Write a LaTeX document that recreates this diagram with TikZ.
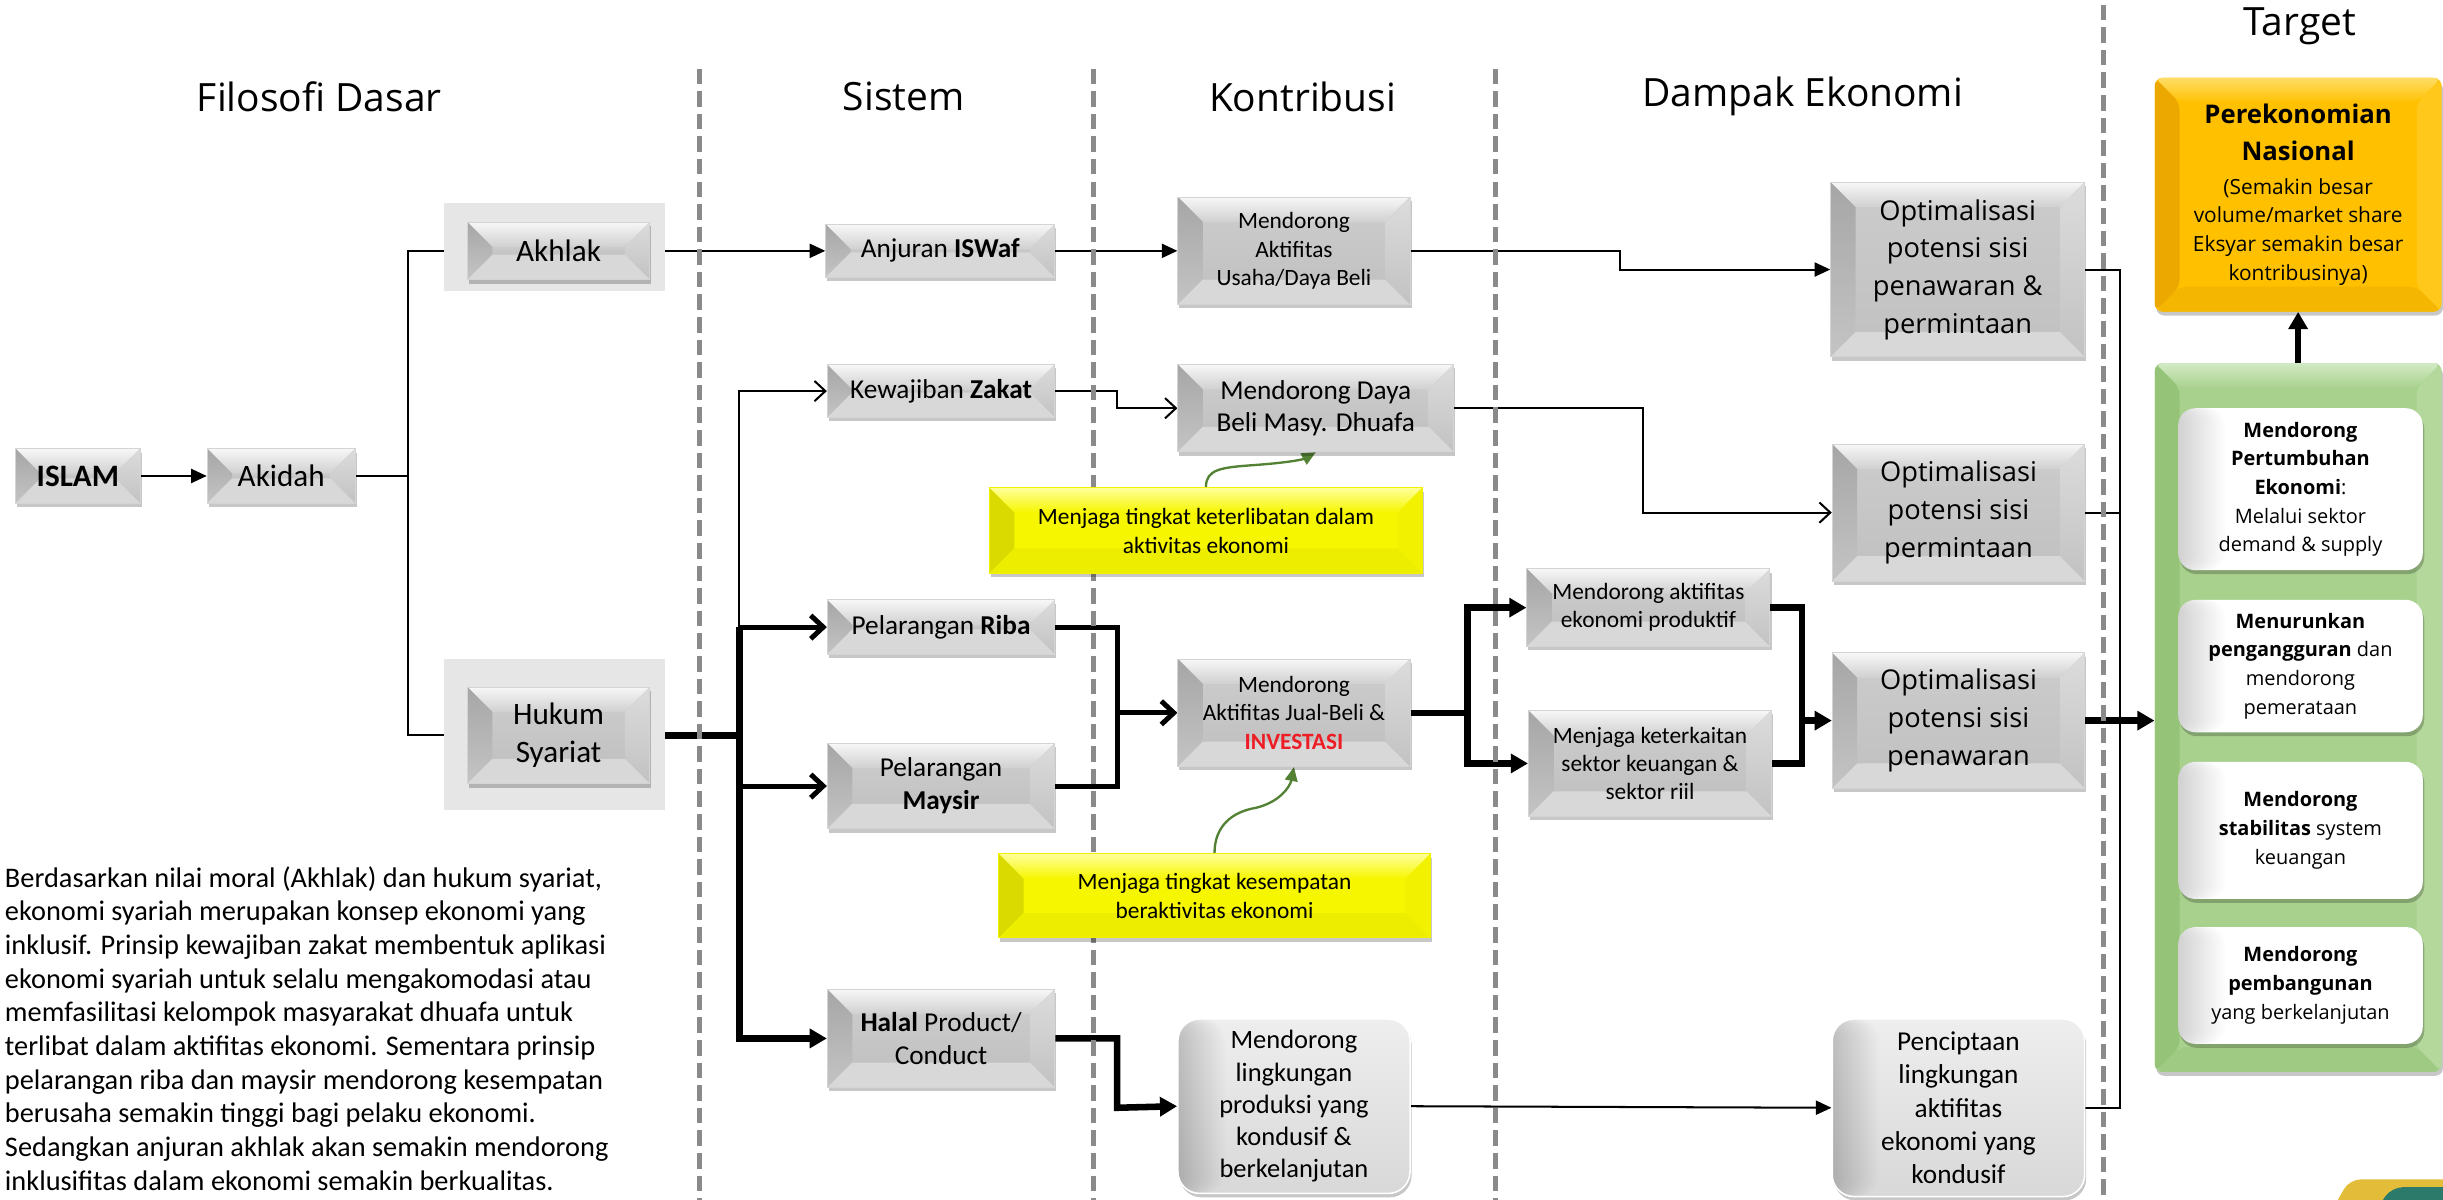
\documentclass[tikz,border=0pt]{standalone}
\usepackage{fontspec}
\setmainfont{Carlito}
\newfontfamily\osans{Open Sans}
\usetikzlibrary{arrows.meta,shadows,calc}
\newcommand\fsz[2]{\fontsize{#1}{#2}\selectfont}

% grey bevel boxes
\definecolor{gTopA}{HTML}{F7F7F7}
\definecolor{gTopB}{HTML}{D0D0D0}
\definecolor{gLA}{HTML}{A6A6A6}
\definecolor{gLB}{HTML}{C4C4C4}
\definecolor{gRA}{HTML}{DCDCDC}
\definecolor{gRB}{HTML}{C2C2C2}
\definecolor{gBot}{HTML}{D8D8D8}
\definecolor{gInA}{HTML}{CACACA}
\definecolor{gInB}{HTML}{C2C2C2}
\definecolor{gBorder}{HTML}{D4D4D4}
\definecolor{bgGrey}{HTML}{E6E6E6}
% yellow notes
\definecolor{yTopA}{HTML}{FFFF9A}
\definecolor{yTopB}{HTML}{F6F600}
\definecolor{yL}{HTML}{DADA00}
\definecolor{yR}{HTML}{F2F200}
\definecolor{yBot}{HTML}{EDED00}
\definecolor{yIn}{HTML}{F6F600}
% orange target
\definecolor{oTopA}{HTML}{FFDD66}
\definecolor{oTopB}{HTML}{FFC000}
\definecolor{oL}{HTML}{EDA800}
\definecolor{oR}{HTML}{FFC81A}
\definecolor{oBot}{HTML}{F4B600}
\definecolor{oIn}{HTML}{FFC000}
% green panel
\definecolor{grTopA}{HTML}{D3EAC4}
\definecolor{grTopB}{HTML}{A9D18E}
\definecolor{grL}{HTML}{95C377}
\definecolor{grR}{HTML}{B4D89C}
\definecolor{grBot}{HTML}{9FCA83}
\definecolor{grIn}{HTML}{A9D18E}
% misc
\definecolor{dashGrey}{HTML}{8A8A8A}
\definecolor{curveGreen}{HTML}{548235}
\definecolor{invRed}{HTML}{EE1C25}
\definecolor{rgTop}{HTML}{EEEEEE}
\definecolor{rgBot}{HTML}{D8D8D8}
\definecolor{logoY}{HTML}{E3BC3A}
\definecolor{logoT}{HTML}{2C7A69}

\pgfdeclarelayer{bg}
\pgfdeclarelayer{conn}
\pgfsetlayers{bg,conn,main}

\tikzset{
  bevel/.style n args={5}{path picture={%
    \path (path picture bounding box.north west) coordinate (pNW)
          (path picture bounding box.north east) coordinate (pNE)
          (path picture bounding box.south east) coordinate (pSE)
          (path picture bounding box.south west) coordinate (pSW)
          ([xshift=16pt,yshift=-16pt]pNW) coordinate (iNW)
          ([xshift=-16pt,yshift=-16pt]pNE) coordinate (iNE)
          ([xshift=-16pt,yshift=16pt]pSE) coordinate (iSE)
          ([xshift=16pt,yshift=16pt]pSW) coordinate (iSW);
    \fill[#5] (iNW) rectangle (iSE);
    \fill[#1] (pNW) -- (pNE) -- (iNE) -- (iNW) -- cycle;
    \fill[#2] (pNW) -- (iNW) -- (iSW) -- (pSW) -- cycle;
    \fill[#3] (pNE) -- (iNE) -- (iSE) -- (pSE) -- cycle;
    \fill[#4] (pSW) -- (iSW) -- (iSE) -- (pSE) -- cycle;
  }},
  % soft darkening along the left edge, built from stacked translucent strips
  leftshade/.style={path picture={%
    \foreach \w in {2,4,...,30}
      \fill[black, opacity=0.011] (path picture bounding box.north west)
        rectangle ([xshift=\w pt]path picture bounding box.south west);
  }},
  softshadow/.style={drop shadow={shadow xshift=1pt,shadow yshift=-2.5pt,opacity=0.22,fill=black}},
  gbox/.style={draw=gBorder, line width=0.6pt, fill=gInA, inner sep=0pt, align=center, softshadow,
    bevel={top color=gTopA,bottom color=gTopB}{top color=gLA,bottom color=gLB}%
          {top color=gRA,bottom color=gRB}{fill=gBot}{top color=gInA,bottom color=gInB}},
  ybox/.style={draw=yR, line width=0.6pt, fill=yIn, inner sep=0pt, align=center, softshadow,
    font=\fsz{15}{18.6},
    bevel={top color=yTopA,bottom color=yTopB}{fill=yL}{fill=yR}{fill=yBot}{fill=yIn}},
  rgbox/.style={draw=white, line width=1pt, rounded corners=14pt, top color=rgTop, bottom color=rgBot,
    inner sep=0pt, align=center, softshadow, leftshade},
  obox/.style={rounded corners=5pt, fill=oIn, inner sep=0pt, align=center, softshadow,
    bevel={top color=oTopA,bottom color=oTopB}{fill=oL}{fill=oR}{fill=oBot}{fill=oIn}},
  grbox/.style={rounded corners=5pt, fill=grIn, inner sep=0pt, softshadow,
    bevel={top color=grTopA,bottom color=grTopB}{fill=grL}{fill=grR}{fill=grBot}{fill=grIn}},
  card/.style={rounded corners=11pt, fill=white, inner sep=0pt, align=center,
    font=\osans\fsz{12.8}{18.4}, softshadow, leftshade},
  titletext/.style={font=\osans\fsz{25}{30}, inner sep=0pt},
  dashln/.style={draw=dashGrey, line width=3pt, dash pattern=on 10pt off 4.5pt},
  thinln/.style={line width=1.3pt},
  medln/.style={line width=3.2pt},
  thickln/.style={line width=4.2pt},
  tipF/.style={-{Triangle[length=10pt,width=9pt]}},
  tipFB/.style={-{Triangle[length=11pt,width=12pt]}},
  tipO/.style={-{Straight Barb[length=7pt,width=13pt]}},
  tipOB/.style={-{Straight Barb[length=8pt,width=15pt]}},
  curvearrow/.style={draw=curveGreen, line width=1.5pt, -{Triangle[length=9pt,width=8pt]}, curveGreen},
}

\begin{document}
\begin{tikzpicture}[x=1pt,y=-1pt]
\begin{pgfonlayer}{bg}
  \fill[white] (0,0) rectangle (1568,770);
\end{pgfonlayer}
\useasboundingbox (0,0) rectangle (1568,770);

% column headings
\node[titletext] (tFil) at (205,62) {Filosofi Dasar};
\node[titletext] (tSis) at (580,62) {Sistem};
\node[titletext] (tKon) at (836,62) {Kontribusi};
\node[titletext] (tDam) at (1157,62) {Dampak Ekonomi};
\node[titletext] (tTar) at (1476,17) {Target};

% column separators
\foreach \cx/\cy in {449/44, 702/44, 960/44, 1350/3}
  \draw[dashln] (\cx,\cy) -- (\cx,772);

% Filosofi Dasar
\node[fill=bgGrey, minimum width=142pt, minimum height=57pt, inner sep=0pt] (bgA) at (356,158.5) {};
\node[fill=bgGrey, minimum width=142pt, minimum height=97pt, inner sep=0pt] (bgH) at (356,471.5) {};
\node[gbox, font=\fsz{20}{24}, minimum width=80pt, minimum height=35pt] (islam) at (50,305.5) {\textbf{ISLAM}};
\node[gbox, font=\fsz{20}{24}, minimum width=95pt, minimum height=35pt] (akidah) at (180.5,305.5) {Akidah};
\node[gbox, font=\fsz{20}{24}, minimum width=117pt, minimum height=37pt] (akhlak) at (358.5,161) {Akhlak};
\node[gbox, font=\fsz{20}{24.5}, minimum width=117pt, minimum height=62pt] (hukum) at (358.5,472) {Hukum\\Syariat};

% Sistem
\node[gbox, font=\fsz{17.5}{21}, minimum width=147pt, minimum height=34pt] (iswaf) at (603.5,161) {Anjuran \textbf{ISWaf}};
\node[gbox, font=\fsz{17.5}{21}, minimum width=146pt, minimum height=34pt] (zakat) at (604,251) {Kewajiban \textbf{Zakat}};
\node[gbox, font=\fsz{17.5}{21}, minimum width=146pt, minimum height=35pt] (riba) at (604,402.5) {Pelarangan \textbf{Riba}};
\node[gbox, font=\fsz{17.5}{21}, minimum width=146pt, minimum height=55pt] (maysir) at (604,504.5) {Pelarangan\\\textbf{Maysir}};
\node[gbox, font=\fsz{17.5}{21}, minimum width=146pt, minimum height=63pt] (halal) at (604,666.5) {\textbf{Halal} Product/\\Conduct};

% Kontribusi
\node[gbox, font=\fsz{15}{18.4}, minimum width=149pt, minimum height=69pt] (usaha) at (830.5,161) {Mendorong\\Aktifitas\\Usaha/Daya Beli};
\node[gbox, font=\fsz{17.5}{21}, minimum width=177pt, minimum height=56pt] (daya) at (844.5,262) {Mendorong Daya\\Beli Masy. Dhuafa};
\node[gbox, font=\fsz{15}{18.4}, minimum width=149pt, minimum height=69pt] (jual) at (830.5,457.5) {Mendorong\\Aktifitas Jual-Beli \&\\\textcolor{invRed}{\textbf{INVESTASI}}};
\node[rgbox, font=\fsz{17}{20.6}, minimum width=149pt, minimum height=112pt] (ling) at (830.5,710) {Mendorong\\lingkungan\\produksi yang\\kondusif \&\\berkelanjutan};
\node[ybox, minimum width=278pt, minimum height=55pt] (ket1) at (774,340.5) {Menjaga tingkat keterlibatan dalam\\aktivitas ekonomi};
\node[ybox, minimum width=277pt, minimum height=54pt] (ket2) at (779.5,575) {Menjaga tingkat kesempatan\\beraktivitas ekonomi};

% Dampak Ekonomi
\node[gbox, font=\fsz{15}{18}, minimum width=156pt, minimum height=50pt] (prod) at (1058,390) {Mendorong aktifitas\\ekonomi produktif};
\node[gbox, font=\fsz{15}{18}, minimum width=156pt, minimum height=68pt] (kait) at (1059,490) {Menjaga keterkaitan\\sektor keuangan \&\\sektor riil};
\node[gbox, font=\osans\fsz{17.5}{24.2}, minimum width=163pt, minimum height=112pt] (topopt) at (1256.5,173) {Optimalisasi\\potensi sisi\\penawaran \&\\permintaan};
\node[gbox, font=\osans\fsz{17.5}{24.2}, minimum width=162pt, minimum height=88pt] (minta) at (1257,329) {Optimalisasi\\potensi sisi\\permintaan};
\node[gbox, font=\osans\fsz{17.5}{24.2}, minimum width=162pt, minimum height=87pt] (tawar) at (1257,462.5) {Optimalisasi\\potensi sisi\\penawaran};
\node[rgbox, font=\fsz{17.5}{21.4}, minimum width=162pt, minimum height=114pt] (cipta) at (1257,711) {Penciptaan\\lingkungan\\aktifitas\\ekonomi yang\\kondusif};

% Target
\node[obox, font=\osans\fsz{13.4}{18.4}, minimum width=184pt, minimum height=150pt] (orange) at (1475,125)
  {\textbf{\fsz{16.5}{23}Perekonomian}\\[4.8pt]\textbf{\fsz{16.5}{23}Nasional}\\[3.4pt](Semakin besar\\volume/market share\\Eksyar semakin besar\\kontribusinya)};
\node[grbox, minimum width=184pt, minimum height=455pt] (green) at (1475,460.5) {};
\node[card, minimum width=157pt, minimum height=104pt] (card1) at (1476.5,314) {\textbf{Mendorong}\\\textbf{Pertumbuhan}\\\textbf{Ekonomi}:\\Melalui sektor\\demand \& supply};
\node[card, minimum width=157pt, minimum height=85pt] (card2) at (1476.5,427.5) {\textbf{Menurunkan}\\\textbf{pengangguran} dan\\mendorong\\pemerataan};
\node[card, minimum width=157pt, minimum height=88pt] (card3) at (1476.5,533) {\textbf{Mendorong}\\\textbf{stabilitas} system\\keuangan};
\node[card, minimum width=157pt, minimum height=75pt] (card4) at (1476.5,632.5) {\textbf{Mendorong}\\\textbf{pembangunan}\\yang berkelanjutan};

% explanatory paragraph
\node[anchor=north west, align=left, inner sep=0pt, font=\fsz{18.2}{21.6}] (para) at (3,556)
  {Berdasarkan nilai moral (Akhlak) dan hukum syariat,\\
   ekonomi syariah merupakan konsep ekonomi yang\\
   inklusif. Prinsip kewajiban zakat membentuk aplikasi\\
   ekonomi syariah untuk selalu mengakomodasi atau\\
   memfasilitasi kelompok masyarakat dhuafa untuk\\
   terlibat dalam aktifitas ekonomi. Sementara prinsip\\
   pelarangan riba dan maysir mendorong kesempatan\\
   berusaha semakin tinggi bagi pelaku ekonomi.\\
   Sedangkan anjuran akhlak akan semakin mendorong\\
   inklusifitas dalam ekonomi semakin berkualitas.};

% corner emblem
\fill[logoY, rounded corners=7pt] (1496,778) -- (1508,757) -- (1580,757) -- (1580,778) -- cycle;
\fill[logoT, rounded corners=7pt] (1524,778) -- (1535,762) -- (1580,762) -- (1580,778) -- cycle;

% junction points
\coordinate (jA) at (262,305.5);
\coordinate (jUs) at (1040,173);
\coordinate (jH) at (474.5,472);
\coordinate (jZ) at (717,262);
\coordinate (jRM) at (717,457.5);
\coordinate (jD) at (1054.7,329);
\coordinate (jJ) at (942,457.5);
\coordinate (jP) at (1156.5,462.5);
\coordinate (jR) at (1360.5,462.5);
\coordinate (jL) at (717,711);

\begin{pgfonlayer}{conn}
  % Filosofi Dasar
  \draw[thinln, tipF] (islam.east) -- (akidah.west);
  \draw[thinln] (akidah.east) -- (jA);
  \draw[thinln, tipF] (jA) |- (akhlak.west);
  \draw[thinln, tipF] (jA) |- (hukum.west);
  % Akhlak branch
  \draw[thinln, tipF] (akhlak.east) -- (iswaf.west);
  \draw[thinln, tipF] (iswaf.east) -- (usaha.west);
  \draw[thinln, tipF] (usaha.east) -| (jUs) -- (topopt.west);
  % Hukum Syariat branch
  \draw[thickln] (hukum.east) -- (jH);
  \draw[thinln, tipO] (jH |- riba.west) |- (zakat.west);
  \draw[medln, tipOB] (jH |- riba.west) -- (riba.west);
  \draw[medln, tipOB] (jH |- maysir.west) -- (maysir.west);
  \draw[thickln, tipFB] (jH |- riba.west) |- (halal.west);
  % Zakat
  \draw[thinln, tipO] (zakat.east) -| (jZ) -- (daya.west);
  \draw[thinln, tipO] (daya.east) -| (jD) -- (minta.west);
  % Riba and Maysir
  \draw[medln] (riba.east) -| (jRM |- maysir.east) -- (maysir.east);
  \draw[medln, tipOB] (jRM) -- (jual.west);
  \draw[thickln] (jual.east) -- (jJ);
  \draw[thickln, tipFB] (jJ) |- (prod.west);
  \draw[thickln, tipFB] (jJ) |- (kait.west);
  \draw[thickln] (prod.east) -| (jP |- kait.east) -- (kait.east);
  \draw[thickln, tipFB] (jP) -- (tawar.west);
  % Halal
  \draw[thickln, tipFB] (halal.east) -| (jL) -- (ling.west);
  \draw[thinln, tipF] (ling.east) -- (cipta.west);
  % into the target
  \draw[thinln] (topopt.east) -| (jR |- cipta.east) -- (cipta.east);
  \draw[thinln] (minta.east) -- (minta.east -| jR);
  \draw[thickln, tipFB] (tawar.east) -- (tawar.east -| green.west);
  \draw[thickln, tipFB] (green.north) -- (orange.south);
  % notes
  \draw[curvearrow] (ket1.north) .. controls (774,301) and (784,300) .. (805,298.5)
        .. controls (826,297) and (836,295) .. (daya.south);
  \draw[curvearrow] (ket2.north) .. controls (779.5,530) and (791,521) .. (806,518.5)
        .. controls (821,515) and (828,505) .. (jual.south);
\end{pgfonlayer}
\end{tikzpicture}
\end{document}
